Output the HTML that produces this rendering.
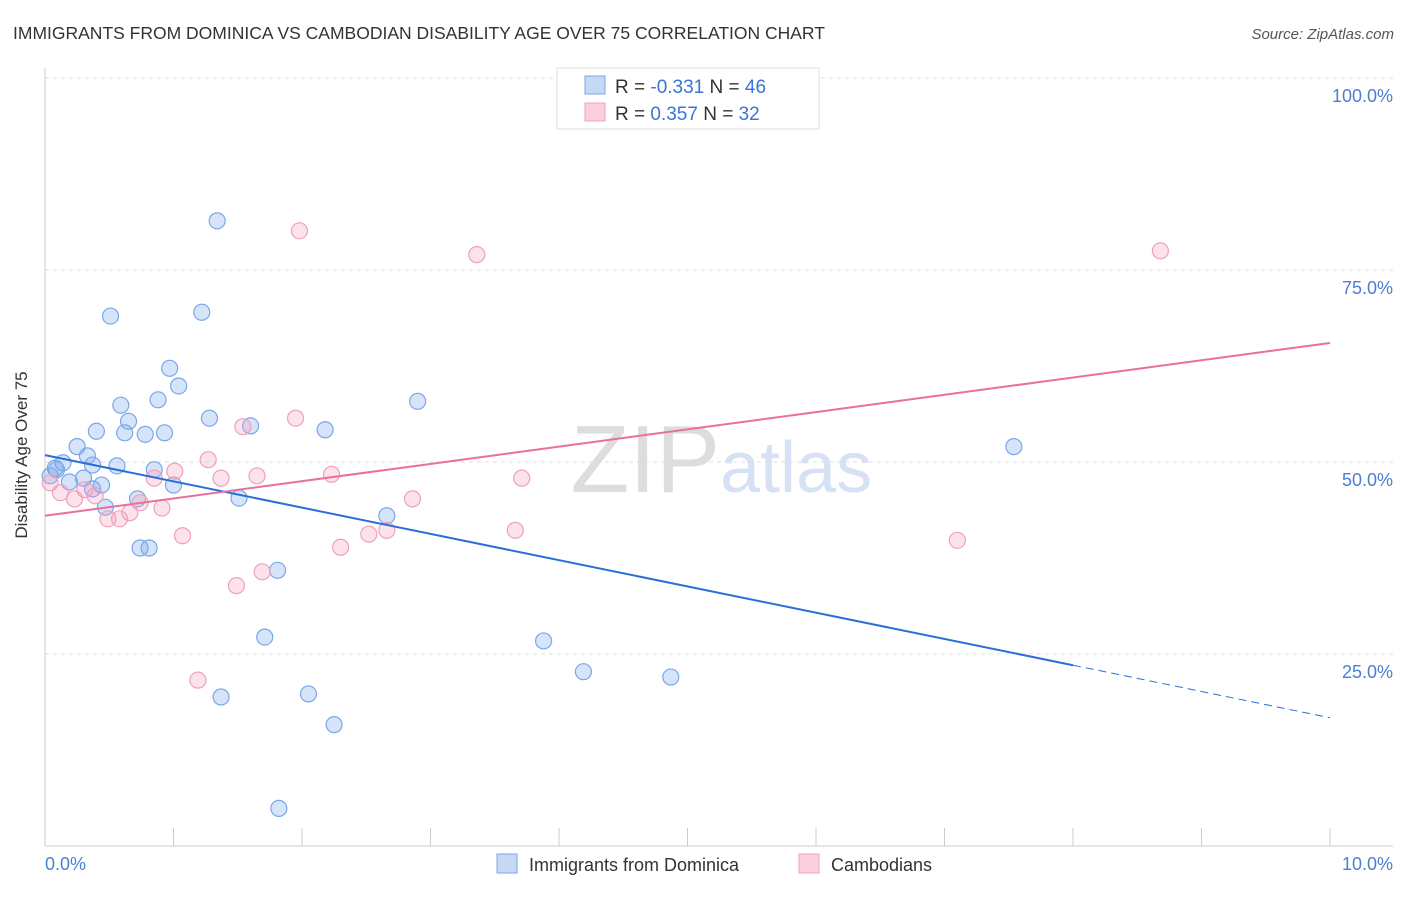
<!DOCTYPE html>
<html><head><meta charset="utf-8"><style>
body{margin:0;background:#fff;font-family:"Liberation Sans",sans-serif;}
svg text{font-family:"Liberation Sans",sans-serif;}
</style></head><body>
<svg width="1406" height="892" xmlns="http://www.w3.org/2000/svg">
<text x="13" y="39" font-size="17.5" fill="#333">IMMIGRANTS FROM DOMINICA VS CAMBODIAN DISABILITY AGE OVER 75 CORRELATION CHART</text>
<text x="1394" y="39" font-size="15" fill="#555" font-style="italic" text-anchor="end">Source: ZipAtlas.com</text>
<g id="grid"></g>
<text x="720" y="492" font-size="96" fill="#ddd" text-anchor="end" font-family="Liberation Serif">ZIP</text>
<text x="720" y="492" font-size="72" fill="#d6e2f4">atlas</text>
<g id="marks"></g>
<text x="27" y="455" font-size="17" fill="#333" text-anchor="middle" transform="rotate(-90 27 455)">Disability Age Over 75</text>
<text x="45" y="870" font-size="18" fill="#4a7fd4">0.0%</text>
<text x="1393" y="870" font-size="18" fill="#4a7fd4" text-anchor="end">10.0%</text>
<g>
<rect x="557" y="68" width="262" height="61" fill="#fff" stroke="#ddd"/>
<rect x="585" y="76" width="20" height="18" fill="#c5d9f5" stroke="#7aa7e8"/>
<rect x="585" y="103" width="20" height="18" fill="#fbd0dd" stroke="#f0a0bc"/>
<text x="615" y="93" font-size="19" fill="#333">R = <tspan fill="#3b75d4">-0.331</tspan>   N = <tspan fill="#3b75d4">46</tspan></text>
<text x="615" y="120" font-size="19" fill="#333">R =  <tspan fill="#3b75d4">0.357</tspan>   N = <tspan fill="#3b75d4">32</tspan></text>
</g>
<g>
<rect x="497" y="854" width="20" height="19" fill="#c5d9f5" stroke="#7aa7e8"/>
<text x="529" y="871" font-size="18" fill="#333">Immigrants from Dominica</text>
<rect x="799" y="854" width="20" height="19" fill="#fbd0dd" stroke="#f0a0bc"/>
<text x="831" y="871" font-size="18" fill="#333">Cambodians</text>
</g>
</svg>
<script>
const yTicks=[25,50,75,100];
const xTicks=[0,1,2,3,4,5,6,7,8,9,10];
const blueX=[1.34,0.51,1.22,0.97,1.04,0.88,0.59,2.90,1.28,1.60,0.65,0.40,0.62,0.78,0.93,2.18,0.25,0.33,0.14,0.37,0.56,0.08,0.04,0.30,0.44,0.85,1.00,0.37,0.72,1.51,0.47,2.66,0.74,0.81,1.81,1.71,3.88,4.19,4.87,1.37,2.05,2.25,1.82,7.54,0.09,0.19];
const blueY=[81.4,69.0,69.5,62.2,59.9,58.1,57.4,57.9,55.7,54.7,55.3,54.0,53.8,53.6,53.8,54.2,52.0,50.8,49.9,49.6,49.5,49.2,48.2,47.9,47.0,49.0,47.0,46.5,45.2,45.3,44.1,43.0,38.8,38.8,35.9,27.2,26.7,22.7,22.0,19.4,19.8,15.8,4.9,52.0,49.0,47.4];
const pinkX=[1.98,3.36,8.68,1.95,1.54,1.27,1.01,0.85,1.37,1.65,2.23,3.71,2.86,0.12,0.23,0.39,0.74,0.91,0.66,0.49,0.58,1.07,2.30,2.52,2.66,3.66,7.10,1.69,1.49,1.19,0.04,0.31];
const pinkY=[80.1,77.0,77.5,55.7,54.6,50.3,48.8,47.9,47.9,48.2,48.4,47.9,45.2,46.0,45.2,45.6,44.7,44.0,43.4,42.6,42.6,40.4,38.9,40.6,41.1,41.1,39.8,35.7,33.9,21.6,47.3,46.4];
const blueTrend=[50.9,16.7]; const blueSolidEnd=8;
const pinkTrend=[43.0,65.5];
const NS='http://www.w3.org/2000/svg';
const sx=v=>45+v*128.5, sy=v=>846-v*7.68;
function mk(t,a,p){const e=document.createElementNS(NS,t);for(const k in a)e.setAttribute(k,a[k]);p.appendChild(e);return e;}
const grid=document.getElementById('grid'),marks=document.getElementById('marks');
yTicks.forEach(v=>{
 const l=mk('line',{x1:45,x2:1393,y1:sy(v),y2:sy(v),stroke:'#ddd','stroke-dasharray':'4,4'},grid);
 
 
 const t=mk('text',{x:1393,y:sy(v)+24,'font-size':18,fill:'#4a7fd4','text-anchor':'end'},grid);
 t.textContent=v.toFixed(1)+'%';
 
 
});
const ax=mk('line',{x1:45,x2:1393,y1:846,y2:846,stroke:'#ccc'},grid);


const ay=mk('line',{x1:45,x2:45,y1:68,y2:846,stroke:'#ccc'},grid);


xTicks.forEach(v=>{const t=mk('line',{x1:sx(v),x2:sx(v),y1:828,y2:846,stroke:'#ccc'},grid);
 
 });
function pts(X,Y,fill,stroke,name){X.forEach((x,i)=>{const c=mk('circle',{cx:sx(x),cy:sy(Y[i]),r:8,fill:fill,stroke:stroke,'stroke-width':1.2},marks);
 
 });}
pts(blueX,blueY,'rgba(120,165,235,0.3)','#7aa7e8','dominica-point');
pts(pinkX,pinkY,'rgba(245,160,190,0.3)','#f0a0bc','cambodian-point');
const by=x=>blueTrend[0]+(blueTrend[1]-blueTrend[0])*x/10;
const b1=mk('line',{x1:sx(0),y1:sy(by(0)),x2:sx(blueSolidEnd),y2:sy(by(blueSolidEnd)),stroke:'#2a6fd6','stroke-width':2},marks);


const b2=mk('line',{x1:sx(blueSolidEnd),y1:sy(by(blueSolidEnd)),x2:sx(10),y2:sy(by(10)),stroke:'#2a6fd6','stroke-width':1,'stroke-dasharray':'8,5'},marks);


const p1=mk('line',{x1:sx(0),y1:sy(pinkTrend[0]),x2:sx(10),y2:sy(pinkTrend[1]),stroke:'#e8709a','stroke-width':2},marks);


</script>
</body></html>
